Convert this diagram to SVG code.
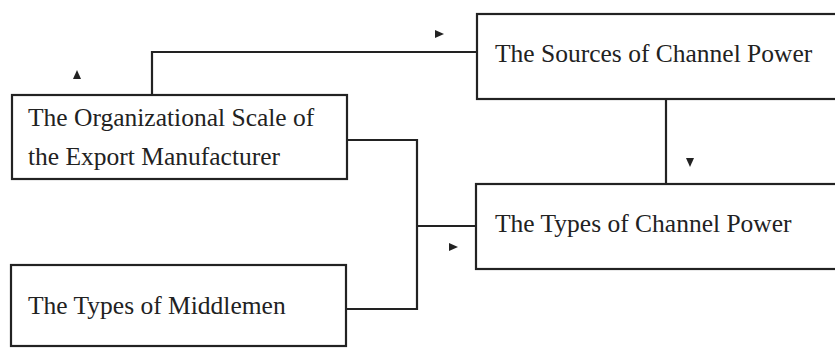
<svg xmlns="http://www.w3.org/2000/svg" xmlns:xlink="http://www.w3.org/1999/xlink" width="835" height="348" viewBox="0 0 835 348">
  <style>
    .box { fill: #ffffff; stroke: #222222; stroke-width: 2.2; }
    .lbl { font-family: "Liberation Serif", "Times New Roman", serif; font-size: 25.5px; fill: #222222; }
    .conn { fill: none; stroke: #222222; stroke-width: 2.2; stroke-linejoin: miter; }
    .head { fill: #222222; }
  </style>
  <defs>
    <polygon id="tri" points="-4,-4 5,0 -4,4"/>
  </defs>
  <rect x="0" y="0" width="835" height="348" fill="#ffffff"/>

  <g id="connectors">
    <path class="conn" d="M152,94 V52 H477"/>
    <path class="conn" d="M666,99 V184"/>
    <path class="conn" d="M347,140 H417 V309 H347"/>
    <path class="conn" d="M417,226 H476"/>
    <use href="#tri" xlink:href="#tri" class="head" transform="translate(77,75) rotate(-90)"/>
    <use href="#tri" xlink:href="#tri" class="head" transform="translate(439,34)"/>
    <use href="#tri" xlink:href="#tri" class="head" transform="translate(690,162) rotate(90)"/>
    <use href="#tri" xlink:href="#tri" class="head" transform="translate(453,247)"/>
  </g>

  <g id="node-org-scale">
    <rect class="box" x="12" y="95" width="335" height="84"/>
    <text class="lbl" x="28" y="126">The Organizational Scale of</text>
    <text class="lbl" x="28" y="165">the Export Manufacturer</text>
  </g>

  <g id="node-sources">
    <rect class="box" x="477" y="14" width="370" height="85"/>
    <text class="lbl" x="495" y="62">The Sources of Channel Power</text>
  </g>

  <g id="node-types-power">
    <rect class="box" x="476" y="184" width="370" height="85"/>
    <text class="lbl" x="495" y="232">The Types of Channel Power</text>
  </g>

  <g id="node-middlemen">
    <rect class="box" x="11" y="265" width="335" height="81"/>
    <text class="lbl" x="28" y="314">The Types of Middlemen</text>
  </g>
</svg>
